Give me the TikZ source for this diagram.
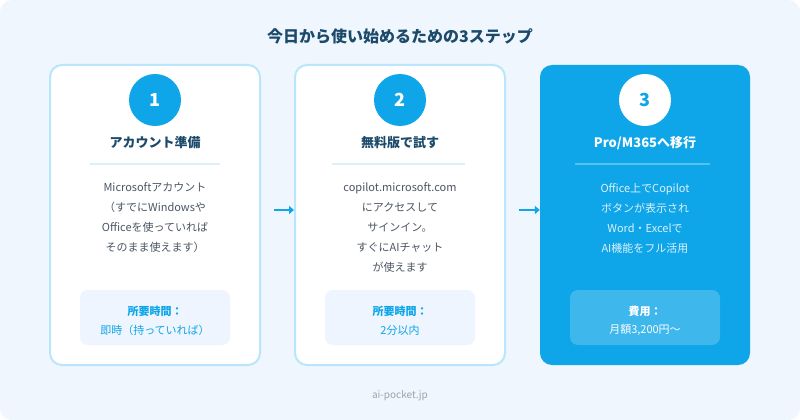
\documentclass[tikz,border=0pt]{standalone}
\usepackage{fontspec}
\setmainfont{Noto Sans CJK JP}
\usetikzlibrary{arrows.meta}
\definecolor{bgc}{HTML}{EFF6FE}
\definecolor{sky}{HTML}{0EA5E9}
\definecolor{skyborder}{HTML}{BAE6FD}
\definecolor{skyline}{HTML}{DCF0FC}
\definecolor{navy}{HTML}{1B4A6B}
\definecolor{bodygray}{HTML}{4B5563}
\definecolor{boxbg}{HTML}{EEF5FE}
\definecolor{footgray}{HTML}{9CA3AF}
\definecolor{lighttext}{HTML}{DDF1FC}
\tikzset{
  cardbox/.style={rounded corners=12pt, minimum width=210pt, minimum height=300pt, inner sep=0pt},
  numcircle/.style={circle, minimum size=52pt, inner sep=0pt, font=\bfseries\fontsize{18}{18}\selectfont},
  cardtitle/.style={font=\bfseries\fontsize{13}{13}\selectfont, inner sep=0pt},
  bodytext/.style={align=center, font=\fontsize{11}{20}\selectfont, inner sep=0pt},
  timebox/.style={rounded corners=8pt, minimum width=150pt, minimum height=55pt, inner sep=0pt},
  timelabel/.style={font=\bfseries\fontsize{11}{11}\selectfont, inner sep=0pt},
  timevalue/.style={font=\fontsize{11}{11}\selectfont, inner sep=0pt},
  seprule/.style={line width=2pt},
  steparrow/.style={draw=sky, line width=2pt, -{Triangle[length=5pt,width=8pt]}}
}
\begin{document}
\begin{tikzpicture}[x=1pt,y=-1pt]
\useasboundingbox (0,0) rectangle (800,420);
\fill[white] (0,0) rectangle (800,420);
\fill[bgc, rounded corners=12pt] (0,0) rectangle (800,420);

\node[font=\bfseries\fontsize{16}{16}\selectfont, text=navy, inner sep=0pt] (title) at (400,36) {今日から使い始めるための3ステップ};

% Card 1
\node[cardbox, fill=white, draw=skyborder, line width=2pt] (card1) at (155,215) {};
\node[numcircle, fill=sky, text=white] (n1) at (155,100) {1};
\node[cardtitle, text=navy] (t1) at (155,143) {アカウント準備};
\coordinate (s1a) at (90,164); \coordinate (s1b) at (220,164);
\draw[seprule, skyline] (s1a) -- (s1b);
\node[bodytext, text=bodygray] (b1) at (155,218) {Microsoftアカウント\\（すでにWindowsや\\Officeを使っていれば\\そのまま使えます）};
\node[timebox, fill=boxbg] (tb1) at (155,317.5) {};
\node[timelabel, text=sky] (tl1) at (155,311) {所要時間：};
\node[timevalue, text=sky] (tv1) at (155,330) {即時（持っていれば）};

% Card 2
\node[cardbox, fill=white, draw=skyborder, line width=2pt] (card2) at (400,215) {};
\node[numcircle, fill=sky, text=white] (n2) at (400,100) {2};
\node[cardtitle, text=navy] (t2) at (400,143) {無料版で試す};
\coordinate (s2a) at (332,164); \coordinate (s2b) at (465,164);
\draw[seprule, skyline] (s2a) -- (s2b);
\node[bodytext, text=bodygray] (b2) at (400,228) {copilot.microsoft.com\\にアクセスして\\サインイン。\\すぐにAIチャット\\が使えます};
\node[timebox, fill=boxbg] (tb2) at (400,317.5) {};
\node[timelabel, text=sky] (tl2) at (400,311) {所要時間：};
\node[timevalue, text=sky] (tv2) at (400,330) {2分以内};

% Card 3
\node[cardbox, fill=sky] (card3) at (645,215) {};
\node[numcircle, fill=white, text=sky] (n3) at (645,100) {3};
\node[cardtitle, text=white] (t3) at (645,143) {Pro/M365へ移行};
\coordinate (s3a) at (575,164); \coordinate (s3b) at (710,164);
\draw[seprule, white, opacity=0.3] (s3a) -- (s3b);
\node[bodytext, text=lighttext] (b3) at (645,218) {Office上でCopilot\\ボタンが表示され\\Word・Excelで\\AI機能をフル活用};
\node[timebox, fill=white, fill opacity=0.2] (tb3) at (645,317.5) {};
\node[timelabel, text=white] (tl3) at (645,311) {費用：};
\node[timevalue, text=white] (tv3) at (645,330) {月額3,200円〜};

% Arrows
\coordinate (a1) at (274,210);
\coordinate (a2) at (519,210);
\draw[steparrow] (a1) -- (card2.west |- a1);
\draw[steparrow] (a2) -- (card3.west |- a2);

\node[font=\fontsize{10}{10}\selectfont, text=footgray, inner sep=0pt] (foot) at (400,396) {ai-pocket.jp};
\end{tikzpicture}
\end{document}
